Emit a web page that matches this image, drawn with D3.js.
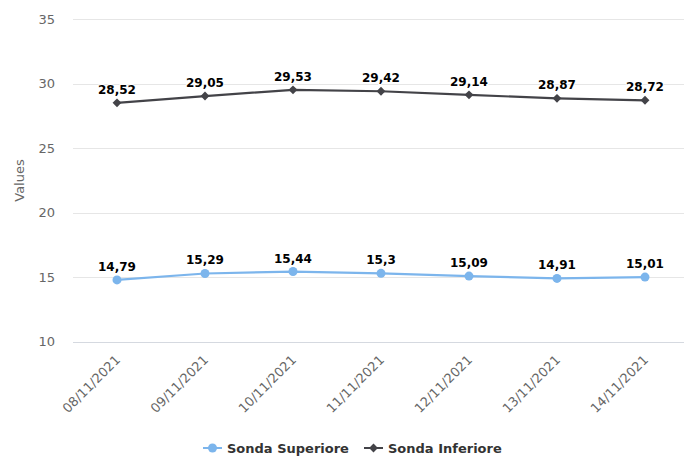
<!DOCTYPE html>
<html><head><meta charset="utf-8">
<script src="https://cdn.jsdelivr.net/npm/d3@7"></script>
<style>
html,body{margin:0;padding:0;background:#fff;}
svg{display:block;font-family:"DejaVu Sans",Verdana,sans-serif;}
</style></head>
<body>
<svg id="chart" width="684" height="456"></svg>
<script>
const categories = ["08/11/2021","09/11/2021","10/11/2021","11/11/2021","12/11/2021","13/11/2021","14/11/2021"];
const sondaSuperiore = [14.79,15.29,15.44,15.3,15.09,14.91,15.01];
const sondaInferiore = [28.52,29.05,29.53,29.42,29.14,28.87,28.72];
const yTicks = [10,15,20,25,30,35];
const seriesNames = ["Sonda Superiore","Sonda Inferiore"];
const seriesColors = ["#7cb5ec","#434348"];

(function(){
const svg = d3.select("#chart");
const pLeft = 73, pRight = 689, pTop = 19.3, pBottom = 341.7;
const x = d3.scaleBand().domain(categories).range([pLeft,pRight]);
const y = d3.scaleLinear().domain([10,35]).range([pBottom,pTop]);
const fmt = v => String(v).replace(".", ",");

// gridlines
svg.append("g").selectAll("line").data(yTicks).join("line")
  .attr("x1",pLeft).attr("x2",684)
  .attr("y1",d=>Math.round(y(d))+0.5).attr("y2",d=>Math.round(y(d))+0.5)
  .attr("stroke",d=>d===10?"#d5d9e0":"#e6e6e6").attr("stroke-width",1);

// y axis labels
const yAxis = d3.axisLeft(y).tickValues(yTicks).tickSize(0).tickPadding(0);
const ya = svg.append("g").attr("transform",`translate(55,0)`).call(yAxis);
ya.select(".domain").remove();
ya.selectAll("text").attr("fill","#666").style("font-size","13px").attr("dy","0.32em")
  .style("font-family","DejaVu Sans, Verdana, sans-serif");

svg.append("text").attr("transform",`translate(24,${(pTop+pBottom)/2}) rotate(-90)`)
  .attr("text-anchor","middle").attr("fill","#666").style("font-size","13px").text("Values");

// x axis labels
const xAxis = d3.axisBottom(x).tickSize(0).tickPadding(0);
const xa = svg.append("g").attr("transform",`translate(0,${pBottom})`).call(xAxis);
xa.select(".domain").remove();
xa.selectAll("text").attr("fill","#666").style("font-size","13px")
  .style("font-family","DejaVu Sans, Verdana, sans-serif")
  .attr("text-anchor","end").attr("dy",null).attr("y",0)
  .attr("transform","translate(4,19) rotate(-45)");

const cx = d => x(d) + x.bandwidth()/2;
const line = d3.line().x((d,i)=>cx(categories[i])).y(d=>y(d));

const allSeries = [sondaSuperiore, sondaInferiore];
allSeries.forEach((vals,si)=>{
  const g = svg.append("g");
  g.append("path").datum(vals).attr("d",line).attr("fill","none")
    .attr("stroke",seriesColors[si]).attr("stroke-width",2.2);
  if(si===0){
    g.selectAll("circle").data(vals).join("circle")
      .attr("cx",(d,i)=>cx(categories[i])).attr("cy",d=>y(d)).attr("r",4.5)
      .attr("fill",seriesColors[si]);
  } else {
    g.selectAll("path.m").data(vals).join("path").attr("class","m")
      .attr("d",d3.symbol().type(d3.symbolDiamond2).size(50))
      .attr("transform",(d,i)=>`translate(${cx(categories[i])},${y(d)})`)
      .attr("fill",seriesColors[si]);
  }
  g.selectAll("text").data(vals).join("text")
    .attr("x",(d,i)=>cx(categories[i])).attr("y",d=>y(d)-9)
    .attr("text-anchor","middle").attr("fill","#000")
    .attr("stroke","#fff").attr("stroke-width",2).attr("paint-order","stroke")
    .style("font-size","12px").style("font-weight","bold").text(fmt);
});

// legend
const legend = [{x:203},{x:364}];
legend.forEach((l,i)=>{
  const g = svg.append("g").attr("transform",`translate(${l.x},448)`);
  g.append("line").attr("x1",0).attr("x2",19).attr("y1",0).attr("y2",0)
    .attr("stroke",seriesColors[i]).attr("stroke-width",2);
  if(i===0) g.append("circle").attr("cx",9.5).attr("cy",0).attr("r",4.5).attr("fill",seriesColors[i]);
  else g.append("path").attr("d",d3.symbol().type(d3.symbolDiamond2).size(50)).attr("transform","translate(9.5,0)").attr("fill",seriesColors[i]);
  g.append("text").attr("x",24).attr("y",0).attr("dy","0.35em").attr("fill","#333")
    .style("font-size","13px").style("font-weight","bold").text(seriesNames[i]);
});
})();
</script>
</body></html>
